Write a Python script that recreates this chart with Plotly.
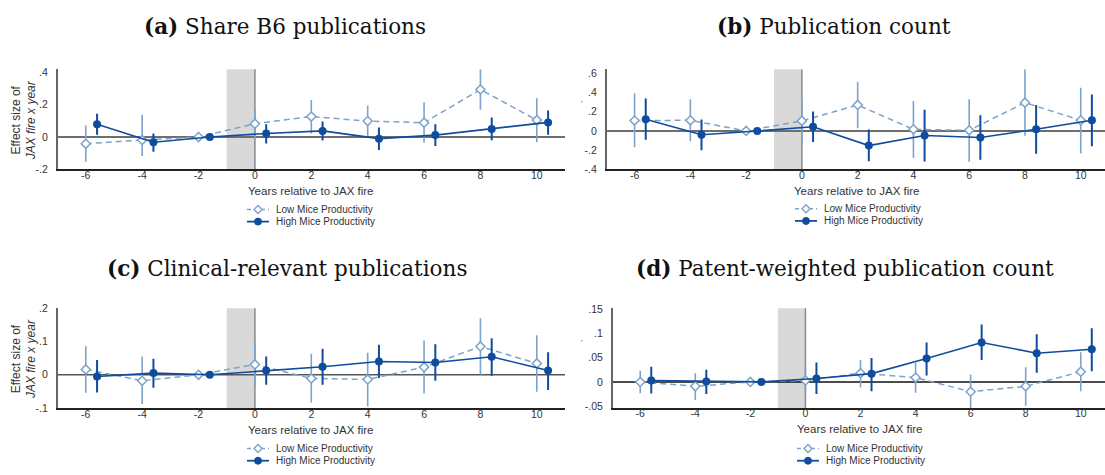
import plotly.graph_objects as go

# Event-time grid (years relative to the JAX fire)
years = [-6, -4, -2, 0, 2, 4, 6, 8, 10]

# (a) Share B6 publications
low_a = [-0.042, -0.018, 0.0, 0.083, 0.127, 0.099, 0.089, 0.295, 0.105]
low_a_lo = [-0.154, -0.117, 0.0, -0.007, 0.022, 0.0, -0.036, 0.170, -0.032]
low_a_hi = [0.071, 0.139, 0.0, 0.172, 0.230, 0.196, 0.216, 0.420, 0.240]
high_a = [0.079, -0.032, 0.0, 0.022, 0.038, -0.010, 0.012, 0.050, 0.091]
high_a_lo = [0.014, -0.091, 0.0, -0.040, -0.022, -0.081, -0.056, -0.020, 0.014]
high_a_hi = [0.145, 0.022, 0.0, 0.079, 0.097, 0.059, 0.079, 0.121, 0.165]

# (b) Publication count
low_b = [0.108, 0.111, 0.0, 0.105, 0.270, 0.017, 0.007, 0.294, 0.111]
low_b_lo = [-0.170, -0.108, 0.0, -0.135, 0.027, -0.280, -0.320, -0.050, -0.233]
low_b_hi = [0.390, 0.330, 0.0, 0.330, 0.510, 0.310, 0.330, 0.640, 0.450]
high_b = [0.122, -0.040, 0.0, 0.044, -0.152, -0.047, -0.068, 0.017, 0.111]
high_b_lo = [-0.091, -0.200, 0.0, -0.115, -0.314, -0.318, -0.300, -0.236, -0.160]
high_b_hi = [0.338, 0.118, 0.0, 0.203, 0.014, 0.220, 0.162, 0.270, 0.380]

# (c) Clinical-relevant publications
low_c = [0.016, -0.018, 0.0, 0.031, -0.011, -0.014, 0.023, 0.085, 0.034]
low_c_lo = [-0.054, -0.088, 0.0, -0.036, -0.083, -0.095, -0.056, 0.0, -0.051]
low_c_hi = [0.086, 0.055, 0.0, 0.098, 0.063, 0.066, 0.103, 0.170, 0.119]
high_c = [-0.005, 0.005, 0.0, 0.013, 0.024, 0.040, 0.037, 0.054, 0.013]
high_c_lo = [-0.053, -0.039, 0.0, -0.030, -0.030, -0.010, -0.018, -0.003, -0.046]
high_c_hi = [0.044, 0.048, 0.0, 0.055, 0.078, 0.090, 0.092, 0.110, 0.068]

# (d) Patent-weighted publication count
low_d = [0.0, -0.009, 0.0, 0.003, 0.018, 0.009, -0.020, -0.009, 0.021]
low_d_lo = [-0.023, -0.037, 0.0, -0.022, -0.011, -0.022, -0.055, -0.049, -0.019]
low_d_hi = [0.023, 0.018, 0.0, 0.030, 0.045, 0.039, 0.015, 0.030, 0.061]
high_d = [0.003, 0.001, 0.0, 0.007, 0.017, 0.048, 0.081, 0.059, 0.067]
high_d_lo = [-0.024, -0.025, 0.0, -0.025, -0.019, 0.013, 0.045, 0.019, 0.022]
high_d_hi = [0.031, 0.025, 0.0, 0.040, 0.049, 0.081, 0.118, 0.098, 0.110]

titles = [
    "<b>(a)</b> Share B6 publications",
    "<b>(b)</b> Publication count",
    "<b>(c)</b> Clinical-relevant publications",
    "<b>(d)</b> Patent-weighted publication count",
]
series_names = ["Low Mice Productivity", "High Mice Productivity"]
xtick_vals = [-6, -4, -2, 0, 2, 4, 6, 8, 10]
xtick_text = ["-6", "-4", "-2", "0", "2", "4", "6", "8", "10"]
ytick_vals = [
    [-0.2, 0, 0.2, 0.4],
    [-0.4, -0.2, 0, 0.2, 0.4, 0.6],
    [-0.1, 0, 0.1, 0.2],
    [-0.05, 0, 0.05, 0.1, 0.15],
]
ytick_text = [
    ["-.2", "0", ".2", ".4"],
    ["-.4", "-.2", "0", ".2", ".4", ".6"],
    ["-.1", "0", ".1", ".2"],
    ["-.05", "0", ".05", ".1", ".15"],
]

W, H = 1105, 475
LOW_COL = "#7ca3ca"
HIGH_COL = "#0f4c9e"
SANS = "Liberation Sans, Arial, sans-serif"
SHIFT = 0.4  # horizontal offset of the high-productivity estimates

# Panel geometry in pixels: plot box, axis ranges, title centre, key position
panels = [
    dict(low=low_a, lo_l=low_a_lo, lo_h=low_a_hi, high=high_a, hi_l=high_a_lo, hi_h=high_a_hi,
         px=(57.6, 565.0), py=(65.0, 167.5), xr=[-7, 11], yr=[-0.2, 0.42],
         zero="#6e6e6e", zw=2.0, tc=(285, 21), key=(247, 208.7)),
    dict(low=low_b, lo_l=low_b_lo, lo_h=low_b_hi, high=high_b, hi_l=high_b_lo, hi_h=high_b_hi,
         px=(606.7, 1105.0), py=(65.0, 167.7), xr=[-7, 10.87], yr=[-0.4, 0.64],
         zero="#6e6e6e", zw=2.0, tc=(834, 21), key=(795, 208.0)),
    dict(low=low_c, lo_l=low_c_lo, lo_h=low_c_hi, high=high_c, hi_l=high_c_lo, hi_h=high_c_hi,
         px=(57.6, 565.0), py=(310.0, 412.5), xr=[-7, 11], yr=[-0.1, 0.2],
         zero="#555555", zw=1.6, tc=(287, 269), key=(247, 454.0)),
    dict(low=low_d, lo_l=low_d_lo, lo_h=low_d_hi, high=high_d, hi_l=high_d_lo, hi_h=high_d_hi,
         px=(612.7, 1105.0), py=(310.0, 412.3), xr=[-7, 10.88], yr=[-0.0533, 0.1514],
         zero="#111111", zw=1.5, tc=(845, 269), key=(797, 454.0)),
]


def fx(px):
    return px / W


def fy(py):
    return 1 - py / H


fig = go.Figure()
layout = dict(
    width=W, height=H, margin=dict(l=0, r=0, t=0, b=0),
    paper_bgcolor="white", plot_bgcolor="white", showlegend=False,
    font=dict(family=SANS, size=11, color="#333333"),
)
shapes, annotations = [], []

for i, p in enumerate(panels):
    n = "" if i == 0 else str(i + 1)
    xa, ya = "x" + n, "y" + n

    x_low = years
    x_high = [yv + SHIFT for yv in years]

    fig.add_trace(go.Scatter(
        x=x_low, y=p["low"], xaxis=xa, yaxis=ya, mode="lines+markers",
        name=series_names[0],
        line=dict(color=LOW_COL, width=1.5, dash="6px,4px"),
        marker=dict(symbol="diamond", size=7, color="white",
                    line=dict(color=LOW_COL, width=1.5)),
        error_y=dict(type="data", symmetric=False,
                     array=[h - v for h, v in zip(p["lo_h"], p["low"])],
                     arrayminus=[v - l for v, l in zip(p["low"], p["lo_l"])],
                     color=LOW_COL, thickness=1.6, width=0),
    ))
    fig.add_trace(go.Scatter(
        x=x_high, y=p["high"], xaxis=xa, yaxis=ya, mode="lines+markers",
        name=series_names[1],
        line=dict(color=HIGH_COL, width=1.6),
        marker=dict(symbol="circle", size=8, color=HIGH_COL),
        error_y=dict(type="data", symmetric=False,
                     array=[h - v for h, v in zip(p["hi_h"], p["high"])],
                     arrayminus=[v - l for v, l in zip(p["high"], p["hi_l"])],
                     color=HIGH_COL, thickness=2, width=0),
    ))

    x0, x1 = p["px"]
    y0, y1 = p["py"]
    layout["xaxis" + n] = dict(
        domain=[fx(x0), fx(x1)], range=p["xr"], anchor=ya,
        tickmode="array", tickvals=xtick_vals, ticktext=xtick_text,
        showgrid=False, zeroline=False, showline=True, linecolor="#222222", linewidth=2,
        ticks="", ticklabelstandoff=-5, tickfont=dict(size=10.5, color="#333333"),
        fixedrange=True,
    )
    layout["yaxis" + n] = dict(
        domain=[fy(y1), fy(y0)], range=p["yr"], anchor=xa,
        tickmode="array", tickvals=ytick_vals[i], ticktext=ytick_text[i],
        showgrid=False, zeroline=False, showline=True, linecolor="#666666", linewidth=1.5,
        ticks="", ticklabelstandoff=6, tickfont=dict(size=10.5, color="#333333"),
        fixedrange=True,
    )

    # Shaded fire window and reference lines
    shapes.append(dict(type="rect", xref=xa, yref=ya + " domain", x0=-1, x1=0, y0=0, y1=1,
                       fillcolor="#d9d9d9", line=dict(width=0), layer="below"))
    shapes.append(dict(type="line", xref=xa, yref=ya + " domain", x0=0, x1=0, y0=0, y1=1,
                       line=dict(color="#8a8a8a", width=1.5), layer="below"))
    shapes.append(dict(type="line", xref=xa + " domain", yref=ya, x0=0, x1=1, y0=0, y1=0,
                       line=dict(color=p["zero"], width=p["zw"]), layer="below"))

    # Panel title
    annotations.append(dict(
        text=titles[i], xref="paper", yref="paper", x=fx(p["tc"][0]), y=fy(p["tc"][1]),
        xanchor="center", yanchor="middle", showarrow=False,
        font=dict(family="DejaVu Serif, serif", size=21.5, color="#111111"),
    ))
    # x-axis title
    cx = (x0 + x1) / 2 if i % 2 == 0 else (x0 + 1108) / 2
    annotations.append(dict(
        text="Years relative to JAX fire", xref="paper", yref="paper",
        x=fx(cx), y=fy(y1 + 22), xanchor="center", yanchor="middle",
        showarrow=False, font=dict(size=11.5, color="#333333"),
    ))
    # y-axis title
    if i % 2 == 0:
        annotations.append(dict(
            text="Effect size of<br><i>JAX fire x year</i>", xref="paper", yref="paper",
            x=fx(24), y=fy((y0 + y1) / 2 + 1), xanchor="center", yanchor="middle",
            textangle=-90, showarrow=False, align="center",
            font=dict(size=12, color="#333333"),
        ))
    else:
        annotations.append(dict(
            text="'", xref="paper", yref="paper", x=fx(582), y=fy((y0 + y1) / 2 - 16),
            xanchor="center", yanchor="middle", showarrow=False,
            font=dict(size=8, color="#333333"),
        ))

    # Series key below the x-axis title
    kx, ky = p["key"]
    for row, (name, col) in enumerate(zip(series_names, [LOW_COL, HIGH_COL])):
        ry = ky + row * 12.5
        shapes.append(dict(
            type="line", xref="paper", yref="paper", x0=fx(kx), x1=fx(kx + 22),
            y0=fy(ry), y1=fy(ry),
            line=dict(color=col, width=1.5 if row == 0 else 1.8,
                      dash="4px,3px" if row == 0 else "solid"),
        ))
        if row == 0:
            shapes.append(dict(
                type="path", xref="paper", yref="paper", xsizemode="pixel", ysizemode="pixel",
                xanchor=fx(kx + 11), yanchor=fy(ry), path="M-4,0L0,4L4,0L0,-4Z",
                fillcolor="white", line=dict(color=col, width=1.4),
            ))
        else:
            shapes.append(dict(
                type="circle", xref="paper", yref="paper", xsizemode="pixel", ysizemode="pixel",
                xanchor=fx(kx + 11), yanchor=fy(ry), x0=-3.5, x1=3.5, y0=-3.5, y1=3.5,
                fillcolor=col, line=dict(color=col, width=1),
            ))
        annotations.append(dict(
            text=name, xref="paper", yref="paper", x=fx(kx + 27), y=fy(ry),
            xanchor="left", yanchor="middle", showarrow=False,
            font=dict(size=10, color="#333333", family=SANS),
        ))

layout["shapes"] = shapes
layout["annotations"] = annotations
fig.update_layout(**layout)

fig.write_html("out.html", config={"displayModeBar": False})
